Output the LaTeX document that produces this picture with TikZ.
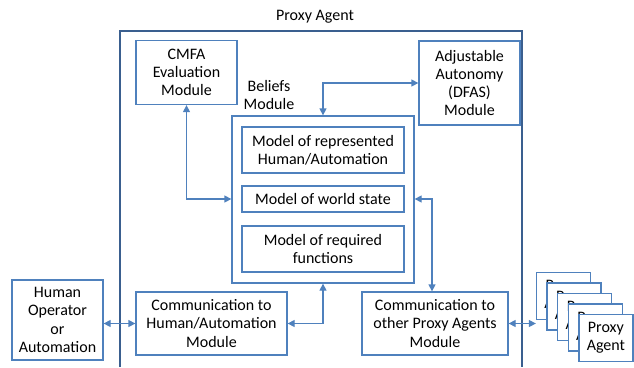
\documentclass[tikz,border=0pt]{standalone}
\usepackage{fontspec}
\setmainfont{Carlito}
\usepackage{tikz}
\usetikzlibrary{arrows.meta}

\definecolor{boxblue}{HTML}{4F81BD}
\definecolor{frameblue}{HTML}{3A5F8F}

\tikzset{
  module/.style={draw=boxblue, line width=1.3pt, fill=white, align=center, inner sep=0pt},
  link/.style={draw=boxblue, line width=1.3pt, {Triangle[length=7pt,width=7pt]}-{Triangle[length=7pt,width=7pt]}},
}

\begin{document}
\begin{tikzpicture}[x=1pt, y=-1pt, font=\fontsize{16}{18.3}\selectfont]
    \useasboundingbox (0,0) rectangle (634,367);

    % proxy agent frame, open at the bottom
    \draw[frameblue, line width=1.2pt] (120,367) -- (120,31) -- (522,31) -- (522,367);
    \node (title) at (315,17) {Proxy Agent};

    % modules inside the agent
    \node[module, minimum width=101pt, minimum height=64pt] (cmfa) at (186.5,72.5) {CMFA\\Evaluation\\Module};
    \node[module, minimum width=101pt, minimum height=84pt] (adj) at (469.5,83) {Adjustable\\Autonomy\\(DFAS)\\Module};
    \node[align=center] (beliefslabel) at (269,95) {Beliefs\\Module};
    \node[module, minimum width=182pt, minimum height=167pt] (beliefs) at (323,199.5) {};
    \node[module, minimum width=162pt, minimum height=46pt] (human model) at (323,150) {Model of represented\\Human/Automation};
    \node[module, minimum width=162pt, minimum height=26pt] (world) at (323,199) {Model of world state};
    \node[module, minimum width=162pt, minimum height=46pt] (functions) at (323,249) {Model of required\\functions};
    \node[module, minimum width=151pt, minimum height=63pt] (commh) at (211.5,323.5) {Communication to\\Human/Automation\\Module};
    \node[module, minimum width=146pt, minimum height=63pt] (commo) at (435,323.5) {Communication to\\other Proxy Agents\\Module};

    % outside the agent
    \node[module, minimum width=91pt, minimum height=80pt] (operator) at (57.5,320) {Human\\Operator\\or\\Automation};
    \foreach \i in {0,...,4}
        \node[module, minimum width=54pt, minimum height=47pt] (pa\i) at (563.5+10.6*\i,296+10.5*\i) {Proxy\\Agent};

    % connectors
    \draw[link] (cmfa.south) |- (beliefs.west |- world);
    \draw[link] (beliefs.north) |- (adj.west);
    \coordinate (bend) at (432,199);
    \draw[link] (beliefs.east |- world) -- (bend) -- (bend |- commo.north);
    \draw[link] (beliefs.south) |- (commh.east);
    \draw[link] (commh.west) -- (commh.west -| operator.east);
    \draw[link] (commo.east) -- (commo.east -| pa0.west);
\end{tikzpicture}
\end{document}
